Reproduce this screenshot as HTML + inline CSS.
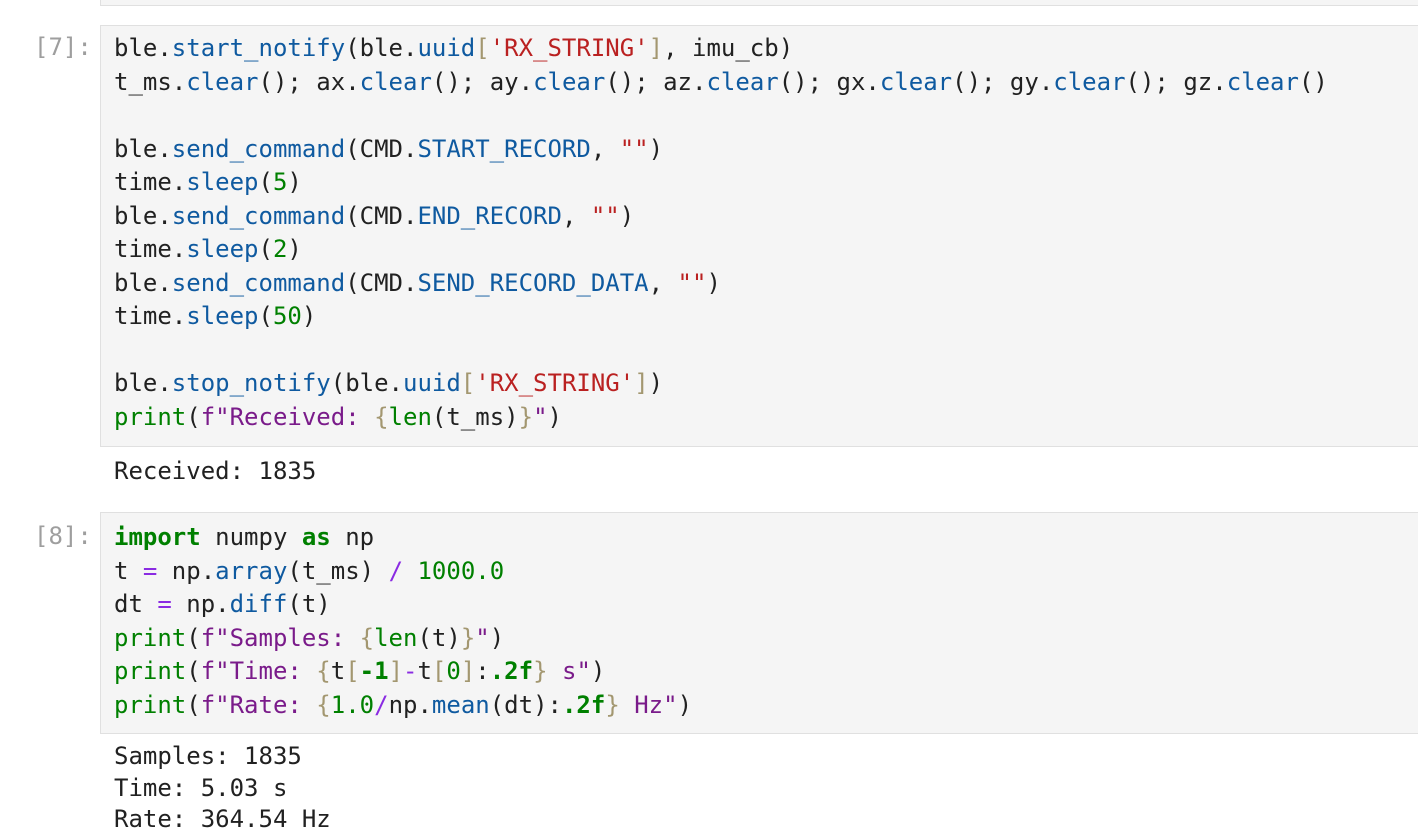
<!DOCTYPE html>
<html><head><meta charset="utf-8"><style>
body{margin:0;width:1418px;height:840px;background:#fff;overflow:hidden;position:relative;font-family:"DejaVu Sans Mono","Liberation Mono",monospace;}
.box{position:absolute;left:100px;right:-2px;background:#f5f5f5;border:1.5px solid #e0e0e0;box-sizing:border-box;}
pre{margin:0;position:absolute;left:114px;font-family:"DejaVu Sans Mono","Liberation Mono",monospace;font-size:24px;line-height:33.5px;color:#212121;white-space:pre;}
pre.out{line-height:31.5px;}
.p{position:absolute;left:34px;font-size:24px;color:#9e9e9e;font-family:"DejaVu Sans Mono",monospace;}
.f{color:#0f5aa0}.s{color:#ba2121}.n{color:#008000}.k{color:#008000;font-weight:bold}.b{color:#008000}
.fs{color:#7a1b8a}.br{color:#a39770}.o{color:#8a2be2}
</style></head><body>
<div class="box" style="top:-10px;height:16px;"></div>
<div class="box" style="top:25px;height:422px;"></div>
<div class="p" style="top:33px">[7]:</div>
<pre style="top:32px">ble.<span class="f">start_notify</span>(ble.<span class="f">uuid</span><span class="br">[</span><span class="s">'RX_STRING'</span><span class="br">]</span>, imu_cb)
t_ms.<span class="f">clear</span>(); ax.<span class="f">clear</span>(); ay.<span class="f">clear</span>(); az.<span class="f">clear</span>(); gx.<span class="f">clear</span>(); gy.<span class="f">clear</span>(); gz.<span class="f">clear</span>()

ble.<span class="f">send_command</span>(CMD.<span class="f">START_RECORD</span>, <span class="s">""</span>)
time.<span class="f">sleep</span>(<span class="n">5</span>)
ble.<span class="f">send_command</span>(CMD.<span class="f">END_RECORD</span>, <span class="s">""</span>)
time.<span class="f">sleep</span>(<span class="n">2</span>)
ble.<span class="f">send_command</span>(CMD.<span class="f">SEND_RECORD_DATA</span>, <span class="s">""</span>)
time.<span class="f">sleep</span>(<span class="n">50</span>)

ble.<span class="f">stop_notify</span>(ble.<span class="f">uuid</span><span class="br">[</span><span class="s">'RX_STRING'</span><span class="br">]</span>)
<span class="b">print</span>(<span class="fs">f"Received: </span><span class="br">{</span><span class="b">len</span>(t_ms)<span class="br">}</span><span class="fs">"</span>)</pre>
<pre class="out" style="top:456px">Received: 1835</pre>

<div class="box" style="top:512px;height:222px;"></div>
<div class="p" style="top:522px">[8]:</div>
<pre style="top:521px"><span class="k">import</span> numpy <span class="k">as</span> np
t <span class="o">=</span> np.<span class="f">array</span>(t_ms) <span class="o">/</span> <span class="n">1000.0</span>
dt <span class="o">=</span> np.<span class="f">diff</span>(t)
<span class="b">print</span>(<span class="fs">f"Samples: </span><span class="br">{</span><span class="b">len</span>(t)<span class="br">}</span><span class="fs">"</span>)
<span class="b">print</span>(<span class="fs">f"Time: </span><span class="br">{</span>t<span class="br">[</span><span class="k">-1</span><span class="br">]</span><span class="o">-</span>t<span class="br">[</span><span class="n">0</span><span class="br">]</span>:<span class="k">.2f</span><span class="br">}</span><span class="fs"> s"</span>)
<span class="b">print</span>(<span class="fs">f"Rate: </span><span class="br">{</span><span class="n">1.0</span><span class="o">/</span>np.<span class="f">mean</span>(dt):<span class="k">.2f</span><span class="br">}</span><span class="fs"> Hz"</span>)</pre>
<pre class="out" style="top:741px">Samples: 1835
Time: 5.03 s
Rate: 364.54 Hz</pre>
</body></html>
